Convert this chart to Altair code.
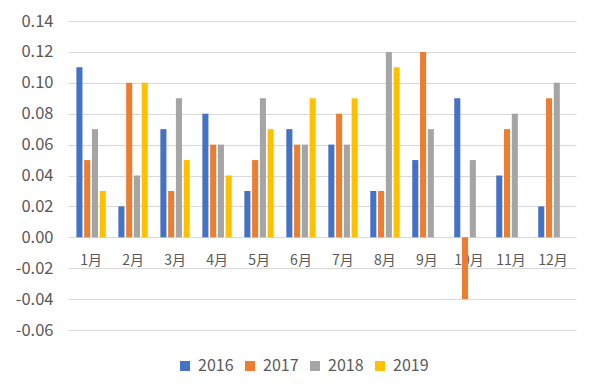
import altair as alt
import pandas as pd

months = ["1月", "2月", "3月", "4月", "5月", "6月", "7月", "8月", "9月", "10月", "11月", "12月"]
years = ["2016", "2017", "2018", "2019"]
v2016 = [0.11, 0.02, 0.07, 0.08, 0.03, 0.07, 0.06, 0.03, 0.05, 0.09, 0.04, 0.02]
v2017 = [0.05, 0.10, 0.03, 0.06, 0.05, 0.06, 0.08, 0.03, 0.12, -0.04, 0.07, 0.09]
v2018 = [0.07, 0.04, 0.09, 0.06, 0.09, 0.06, 0.06, 0.12, 0.07, 0.05, 0.08, 0.10]
v2019 = [0.03, 0.10, 0.05, 0.04, 0.07, 0.09, 0.09, 0.11, None, None, None, None]
y_ticks = [-0.06, -0.04, -0.02, 0.00, 0.02, 0.04, 0.06, 0.08, 0.10, 0.12, 0.14]
colors = ["#4472C4", "#ED7D31", "#A5A5A5", "#FFC000"]

rows = []
for yr, vals in zip(years, [v2016, v2017, v2018, v2019]):
    for m, v in zip(months, vals):
        if v is not None:
            rows.append({"month": m, "year": yr, "value": v})
df = pd.DataFrame(rows)
lab = pd.DataFrame({"month": months, "zero": [0] * len(months)})

FONT = "Noto Sans CJK SC"
GRAY = "#595959"

x_enc = alt.X("month:N", sort=months, axis=None,
              scale=alt.Scale(paddingInner=0.3, paddingOuter=0.2))
y_scale = alt.Scale(domain=[-0.06, 0.14], nice=False, zero=False)
y_axis = alt.Axis(values=y_ticks, tickCount=11, grid=True, gridColor="#D9D9D9", domain=False, ticks=False,
                  labelPadding=15, title=None, labelFontSize=16.5, labelColor=GRAY, labelFont=FONT,
                  labelOverlap=False,
                  labelExpr="replace(format(datum.value, '.2f'), '\u2212', '-')")

labels = alt.Chart(lab).mark_text(dy=24, fontSize=14, color=GRAY, font=FONT).encode(
    x=x_enc,
    y=alt.Y("zero:Q", scale=y_scale, axis=y_axis),
    text="month:N",
)

bars = alt.Chart(df).mark_bar().encode(
    x=x_enc,
    xOffset=alt.XOffset("year:N", sort=years, scale=alt.Scale(paddingInner=0.22, paddingOuter=0)),
    y=alt.Y("value:Q", scale=y_scale, axis=y_axis),
    color=alt.Color("year:N", sort=years, scale=alt.Scale(domain=years, range=colors),
                    legend=alt.Legend(title=None, orient="none", direction="horizontal",
                                      legendX=109, legendY=337, symbolType="square", symbolSize=100,
                                      symbolStrokeWidth=0, labelFontSize=16, labelColor=GRAY,
                                      labelFont=FONT, columnPadding=8, labelOffset=5)),
)

chart = alt.layer(labels, bars).properties(
    width=508, height=309,
    autosize="none",
    padding={"left": 60, "top": 13, "right": 16, "bottom": 50},
).configure_view(stroke=None)

chart.save("out.html", embed_options={"renderer": "svg", "actions": False})
